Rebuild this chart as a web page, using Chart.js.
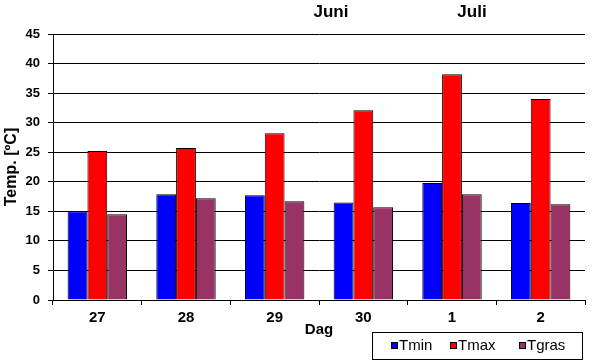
<!DOCTYPE html>
<html>
<head>
<meta charset="utf-8">
<script src="https://cdn.jsdelivr.net/npm/chart.js@4/dist/chart.umd.min.js"></script>
<style>
  html, body { margin: 0; padding: 0; background: #fff; }
  #c { display: block; }
</style>
</head>
<body>
<canvas id="c" width="600" height="360"></canvas>
<script>
// ---- data ----
const days = ['27', '28', '29', '30', '1', '2'];
const tmin = [15.0, 17.9, 17.7, 16.5, 19.8, 16.4];
const tmax = [25.2, 25.7, 28.2, 32.1, 38.2, 34.0];
const tgras = [14.5, 17.2, 16.7, 15.7, 17.9, 16.2];
const seriesNames = ['Tmin', 'Tmax', 'Tgras'];
const months = ['Juni', 'Juli'];
const yTitle = 'Temp. [ºC]';
const xTitle = 'Dag';

const FONT = '"Liberation Sans", Arial, sans-serif';
Chart.defaults.font.family = FONT;
Chart.defaults.color = '#000';

const extrasPlugin = {
  id: 'extras',
  afterDraw(chart) {
    const ctx = chart.ctx;
    ctx.save();
    // month labels
    ctx.fillStyle = '#000';
    ctx.font = 'bold 17px ' + FONT;
    ctx.textAlign = 'center';
    ctx.textBaseline = 'alphabetic';
    const monthX = [331, 472];
    months.forEach((m, i) => ctx.fillText(m, monthX[i], 17));
    // legend box
    ctx.lineWidth = 1;
    ctx.strokeStyle = '#000';
    ctx.fillStyle = '#fff';
    ctx.fillRect(372.5, 332.5, 210, 27);
    ctx.strokeRect(372.5, 332.5, 210, 27);
    const itemX = [391, 450, 519];
    ctx.font = '15px ' + FONT;
    ctx.textAlign = 'left';
    ctx.textBaseline = 'middle';
    chart.data.datasets.forEach((ds, i) => {
      const x = itemX[i];
      ctx.fillStyle = ds.backgroundColor;
      ctx.fillRect(x + 0.5, 342.5, 6, 6);
      ctx.strokeStyle = '#000';
      ctx.strokeRect(x + 0.5, 342.5, 6, 6);
      ctx.fillStyle = '#000';
      ctx.fillText(ds.label, x + 8, 346);
    });
    ctx.restore();
  }
};

new Chart(document.getElementById('c'), {
  type: 'bar',
  data: {
    labels: days,
    datasets: [
      { label: seriesNames[0], data: tmin, backgroundColor: '#0000FF' },
      { label: seriesNames[1], data: tmax, backgroundColor: '#FF0000' },
      { label: seriesNames[2], data: tgras, backgroundColor: '#993366' }
    ]
  },
  options: {
    responsive: false,
    animation: false,
    devicePixelRatio: 1,
    layout: { padding: { top: 34, right: 15, left: 0, bottom: 0 } },
    datasets: {
      bar: {
        borderColor: '#000',
        borderWidth: 1,
        categoryPercentage: 0.67,
        barPercentage: 1.0
      }
    },
    plugins: {
      legend: { display: false },
      tooltip: { enabled: false }
    },
    scales: {
      x: {
        grid: {
          offset: true,
          drawOnChartArea: false,
          drawTicks: true,
          tickLength: 5,
          color: '#000',
          lineWidth: 1
        },
        border: { display: true, color: '#000', width: 1 },
        ticks: {
          font: { size: 15, weight: 'bold' },
          padding: 4,
          color: '#000',
          maxRotation: 0
        },
        title: {
          display: true,
          text: xTitle,
          font: { size: 15, weight: 'bold' },
          padding: { top: 0, bottom: 21 },
          color: '#000'
        },
        afterFit(scale) { scale.height = 60; }
      },
      y: {
        min: 0,
        max: 45,
        ticks: {
          stepSize: 5,
          font: { size: 13, weight: 'bold' },
          padding: 8,
          color: '#000'
        },
        grid: {
          color: '#000',
          lineWidth: 1,
          drawTicks: true,
          tickLength: 5
        },
        border: { display: true, color: '#000', width: 1 },
        title: {
          display: true,
          text: yTitle,
          font: { size: 16, weight: 'bold' },
          padding: { top: 2, bottom: 0 },
          color: '#000'
        },
        afterFit(scale) { scale.width = 53; }
      }
    }
  },
  plugins: [extrasPlugin]
});
</script>
</body>
</html>
